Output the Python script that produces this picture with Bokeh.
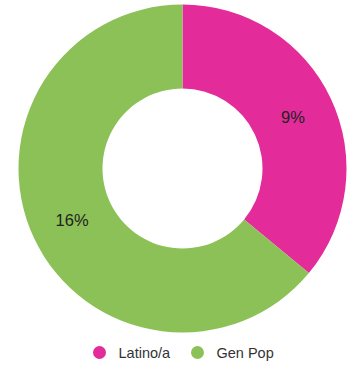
import math
from bokeh.plotting import figure
from bokeh.models import Range1d, ColumnDataSource
from bokeh.core.properties import value
from bokeh.embed import file_html
from bokeh.resources import INLINE

# ---- data ----
categories = ["Latino/a", "Gen Pop"]
values = [9, 16]
labels = ["9%", "16%"]
colors = ["#E32C9A", "#8CC157"]

# ---- layout constants (pixels) ----
W, H = 355, 366
CX, CY = 182, H - 168
R_OUT, R_IN = 164, 80
LEG_Y = H - 352
LEG_X0 = 99
LEG_STEP = 98
LEG_TEXT_DX = 19

total = sum(values)
starts, ends, lx, ly = [], [], [], []
acc = 0.0
for v in values:
    a0 = math.pi / 2 - 2 * math.pi * acc / total
    acc += v
    a1 = math.pi / 2 - 2 * math.pi * acc / total
    starts.append(a0)
    ends.append(a1)
    mid = (a0 + a1) / 2
    rm = (R_OUT + R_IN) / 2
    lx.append(CX + rm * math.cos(mid))
    ly.append(CY + rm * math.sin(mid))

src = ColumnDataSource(dict(start=starts, end=ends, color=colors,
                            lx=lx, ly=ly, label=labels, cat=categories,
                            x=[CX] * len(values), y=[CY] * len(values)))

p = figure(width=W, height=H, output_backend="svg", toolbar_location=None,
           x_range=Range1d(0, W), y_range=Range1d(0, H), min_border=0)
p.axis.visible = False
p.grid.visible = False
p.outline_line_color = None
p.background_fill_color = "white"
p.border_fill_color = "white"

p.annular_wedge(x="x", y="y", inner_radius=R_IN, outer_radius=R_OUT,
                inner_radius_units="screen", outer_radius_units="screen",
                start_angle="start", end_angle="end", direction="clock",
                fill_color="color", line_color=None, source=src)

p.text(x="lx", y="ly", text="label", source=src, text_align="center",
       text_baseline="middle", text_font=value("Liberation Sans"),
       text_font_size="16.5px", text_color="#222222")

# legend
leg_x = [LEG_X0 + i * LEG_STEP for i in range(len(categories))]
leg_src = ColumnDataSource(dict(x=leg_x, tx=[x + LEG_TEXT_DX for x in leg_x],
                                y=[LEG_Y] * len(categories), color=colors,
                                cat=categories))
p.scatter(x="x", y="y", size=13, fill_color="color", line_color=None,
          source=leg_src)
p.text(x="tx", y="y", text="cat", source=leg_src, text_align="left",
       text_baseline="middle", text_font=value("Liberation Sans"),
       text_font_size="14.5px", text_color="#333333")

open("out.html", "w").write(file_html(p, INLINE))
